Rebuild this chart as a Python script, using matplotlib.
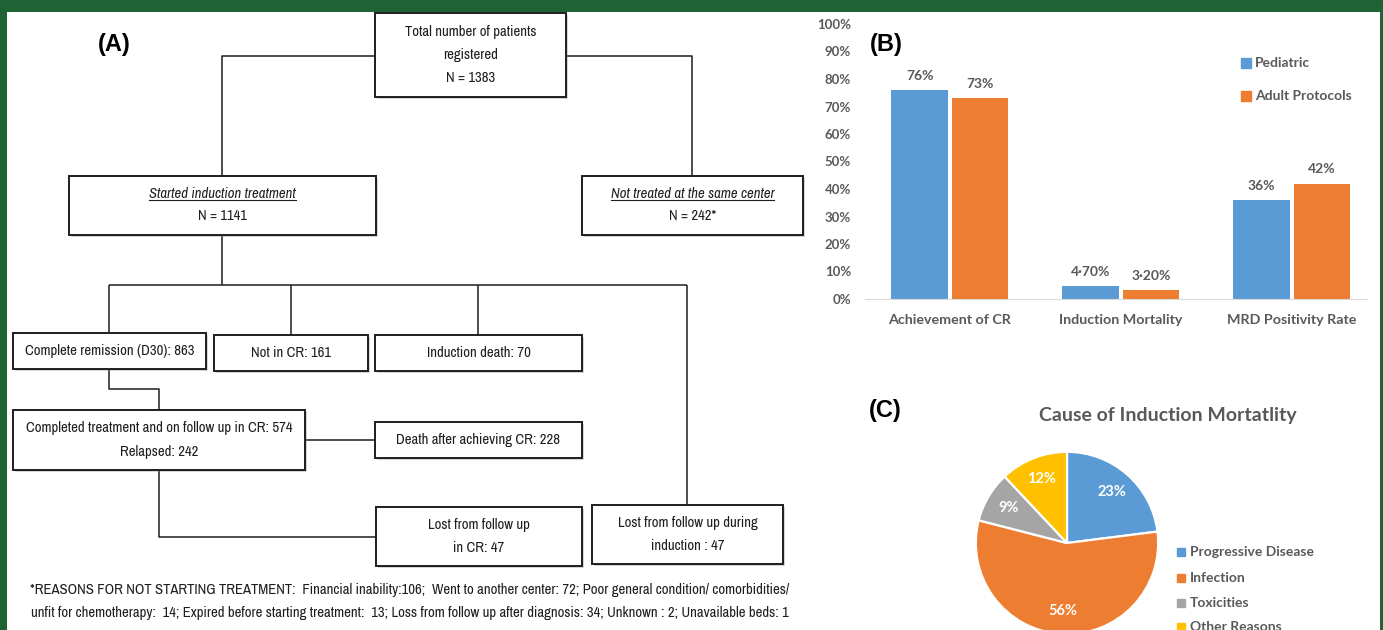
import matplotlib
matplotlib.use("Agg")
import matplotlib.pyplot as plt
from matplotlib import font_manager
from matplotlib.font_manager import FontProperties
from matplotlib.patches import Rectangle

# ── data ────────────────────────────────────────────────────
categories = ["Achievement of CR", "Induction Mortality", "MRD Positivity Rate"]
pediatric = [76, 4.7, 36]
adult = [73, 3.2, 42]
series_names = ["Pediatric", "Adult Protocols"]

causes = ["Progressive Disease", "Infection", "Toxicities", "Other Reasons"]
shares = [23, 56, 9, 12]

box_text = {
    "total": ["Total number of patients", "registered", "N = 1383"],
    "started": ["Started induction treatment", "N = 1141"],
    "nottreated": ["Not treated at the same center", "N = 242*"],
    "cr": ["Complete remission (D30): 863"],
    "notcr": ["Not in CR: 161"],
    "death": ["Induction death: 70"],
    "completed": ["Completed treatment and on follow up in CR: 574", "Relapsed: 242"],
    "deathcr": ["Death after achieving CR: 228"],
    "lostcr": ["Lost from follow up", "in CR: 47"],
    "lostind": ["Lost from follow up during", "induction : 47"],
}
footnote = [
    "*REASONS FOR NOT STARTING TREATMENT:  Financial inability:106;  Went to another center: 72; "
    "Poor general condition/ comorbidities/",
    "unfit for chemotherapy:  14; Expired before starting treatment:  13; Loss from follow up after "
    "diagnosis: 34; Unknown : 2; Unavailable beds: 1",
]

# ── layout (pixel coords, y downwards) ──────────────────────
W, H = 1383, 630
box_pos = {
    "total": (375, 13, 566, 97, [32, 55, 78]),
    "started": (69, 176, 376, 235, [194, 216]),
    "nottreated": (582, 176, 803, 235, [194, 216]),
    "cr": (13, 333, 206, 369, [351]),
    "notcr": (214, 335, 368, 371, [353]),
    "death": (375, 335, 582, 371, [353]),
    "completed": (13, 410, 305, 470, [428, 452]),
    "deathcr": (375, 422, 582, 458, [440]),
    "lostcr": (376, 507, 582, 566, [525, 548]),
    "lostind": (592, 505, 783, 564, [523, 546]),
}
italic_first = {"started", "nottreated"}
connectors = [
    [(375, 56), (222, 56), (222, 176)],
    [(566, 56), (692, 56), (692, 176)],
    [(222, 235), (222, 285)],
    [(109, 285), (687, 285)],
    [(109, 285), (109, 333)],
    [(291, 285), (291, 335)],
    [(478, 285), (478, 335)],
    [(687, 285), (687, 505)],
    [(109, 369), (109, 389), (159, 389), (159, 410)],
    [(305, 440), (375, 440)],
    [(159, 470), (159, 537), (376, 537)],
]

GREEN = "#1f6335"
BLUE, ORANGE, GREY, GOLD = "#5b9bd5", "#ed7d31", "#a5a5a5", "#ffc000"
TXT = "#595959"
INK = "#1e1e1e"

# pick a narrow face for the flowchart (Calibri Light look-alike)
fl = font_manager.fontManager.ttflist
installed = {f.name for f in fl}


def find_face(style):
    pri = []
    for f in fl:
        nm = f.name
        if f.weight not in (400, "normal", "regular", "book"):
            continue
        fstyle = "normal" if f.style == "normal" else "italic"
        if fstyle != style:
            continue
        if "Narrow" in nm or "Condensed" in nm:
            pri.append((0, f.fname))
        elif f.stretch in ("condensed", "semi-condensed", "extra-condensed"):
            pri.append((1, f.fname))
    pri.sort()
    return pri[0][1] if pri else None


reg_file, ita_file = find_face("normal"), find_face("italic")
if reg_file:
    FP = FontProperties(fname=reg_file, size=10.6)
    FPI = FontProperties(fname=ita_file or reg_file, size=10.6,
                         style="normal" if ita_file else "italic")
else:
    FP = FontProperties(family="DejaVu Sans", size=7.3)
    FPI = FontProperties(family="DejaVu Sans", size=7.3, style="italic")

CHART = "Lato" if "Lato" in installed else "DejaVu Sans"
LABEL = "Liberation Sans" if "Liberation Sans" in installed else "DejaVu Sans"

fig = plt.figure(figsize=(W / 100, H / 100), dpi=100, facecolor=GREEN)

# canvas axes in pixels
ax0 = fig.add_axes([0, 0, 1, 1])
ax0.set_xlim(0, W)
ax0.set_ylim(H, 0)
ax0.axis("off")
ax0.add_patch(Rectangle((7, 12), 1373, 630, facecolor="white", edgecolor="none", zorder=0))

# ── (A) flowchart ───────────────────────────────────────────
for pts in connectors:
    xs, ys = zip(*pts)
    ax0.plot(xs, ys, color=INK, lw=1.1, solid_capstyle="butt", zorder=1)

underline = []
for key, (x0, y0, x1, y1, ys) in box_pos.items():
    ax0.add_patch(Rectangle((x0 + 1.5, y0 + 1.5), x1 - x0, y1 - y0, facecolor="#888888",
                            edgecolor="none", alpha=0.35, zorder=2))
    ax0.add_patch(Rectangle((x0, y0), x1 - x0, y1 - y0, facecolor="white",
                            edgecolor=INK, lw=1.4, zorder=3))
    cx = (x0 + x1) / 2
    for i, (line, y) in enumerate(zip(box_text[key], ys)):
        ital = i == 0 and key in italic_first
        t = ax0.text(cx, y, line, ha="center", va="center", fontproperties=FPI if ital else FP,
                     color=INK, zorder=4)
        if ital:
            underline.append(t)

for line, y in zip(footnote, [590, 613]):
    ax0.text(410, y, line, ha="center", va="center", fontproperties=FP, color=INK)

for lab, (x, y) in zip(["(A)", "(B)", "(C)"], [(114, 45), (886, 44), (885, 410)]):
    ax0.text(x, y, lab, ha="center", va="center", fontsize=17, fontweight="bold",
             family=LABEL, color="black")

# ── (B) bar chart ───────────────────────────────────────────
axb = fig.add_axes([865 / W, (H - 299) / H, (1367 - 865) / W, (299 - 24) / H])
axb.patch.set_alpha(0)
xpos = list(range(len(categories)))
bw = 0.33
off = bw / 2 + 0.012
b1 = axb.bar([x - off for x in xpos], [v / 100 for v in pediatric], bw, color=BLUE,
             label=series_names[0])
b2 = axb.bar([x + off for x in xpos], [v / 100 for v in adult], bw, color=ORANGE,
             label=series_names[1])


def pct(v):
    return f"{v:.0f}%" if float(v).is_integer() else f"{v:.2f}%".replace(".", "·")


for bars, vals in [(b1, pediatric), (b2, adult)]:
    for b, v in zip(bars, vals):
        axb.annotate(pct(v), (b.get_x() + b.get_width() / 2, b.get_height()),
                     xytext=(0, 6), textcoords="offset points", ha="center", va="bottom",
                     fontsize=10, fontweight="bold", family=CHART, color=TXT)

axb.set_xlim(-0.497, 2.44)
axb.set_ylim(0, 1)
axb.set_yticks([i / 10 for i in range(11)])
axb.set_yticklabels([f"{i * 10}%" for i in range(11)])
axb.set_xticks(xpos)
axb.set_xticklabels(categories)
axb.tick_params(axis="y", length=0, pad=10, labelsize=9.5, labelcolor=TXT)
axb.tick_params(axis="x", length=0, pad=11, labelsize=10.3, labelcolor=TXT)
for t in axb.get_xticklabels() + axb.get_yticklabels():
    t.set_family(CHART)
    t.set_fontweight("bold")
for s in ["top", "right", "left"]:
    axb.spines[s].set_visible(False)
axb.spines["bottom"].set_color("#d9d9d9")

for name, col, y in zip(series_names, [BLUE, ORANGE], [63, 96]):
    ax0.plot([1246], [y], marker="s", ms=7, color=col, ls="none")
    ax0.text(1255, y, name, ha="left", va="center", fontsize=10, fontweight="bold",
             family=CHART, color=TXT)

# ── (C) pie chart ───────────────────────────────────────────
cx, cy, r = 1067, 543, 93
axp = fig.add_axes([(cx - r) / W, (H - cy - r) / H, 2 * r / W, 2 * r / H])
wedges, _, autotexts = axp.pie(shares, colors=[BLUE, ORANGE, GREY, GOLD], startangle=90,
                               counterclock=False, autopct="%d%%", pctdistance=0.75,
                               wedgeprops=dict(edgecolor="white", linewidth=1.6))
for t in autotexts:
    t.set_color("white")
    t.set_fontsize(10.5)
    t.set_fontweight("bold")
    t.set_family(CHART)
axp.set_xlim(-1.02, 1.02)
axp.set_ylim(-1.02, 1.02)
axp.set_aspect("equal")

ax0.text(1168, 415, "Cause of Induction Mortatlity", ha="center", va="center",
         fontsize=14, fontweight="bold", family=CHART, color=TXT)
for name, col, y in zip(causes, [BLUE, ORANGE, GREY, GOLD], [552, 578, 603, 627]):
    ax0.plot([1181], [y], marker="s", ms=5.5, color=col, ls="none")
    ax0.text(1190, y, name, ha="left", va="center", fontsize=10, fontweight="bold",
             family=CHART, color=TXT)

# underline the italic headings
fig.canvas.draw()
inv = ax0.transData.inverted()
for t in underline:
    bb = t.get_window_extent()
    (xa, ya), (xb, _) = inv.transform([(bb.x0, bb.y0), (bb.x1, bb.y0)])
    ax0.plot([xa, xb], [ya - 1, ya - 1], color=INK, lw=0.8, zorder=5)

fig.savefig("out.png", dpi=100, facecolor=GREEN)
